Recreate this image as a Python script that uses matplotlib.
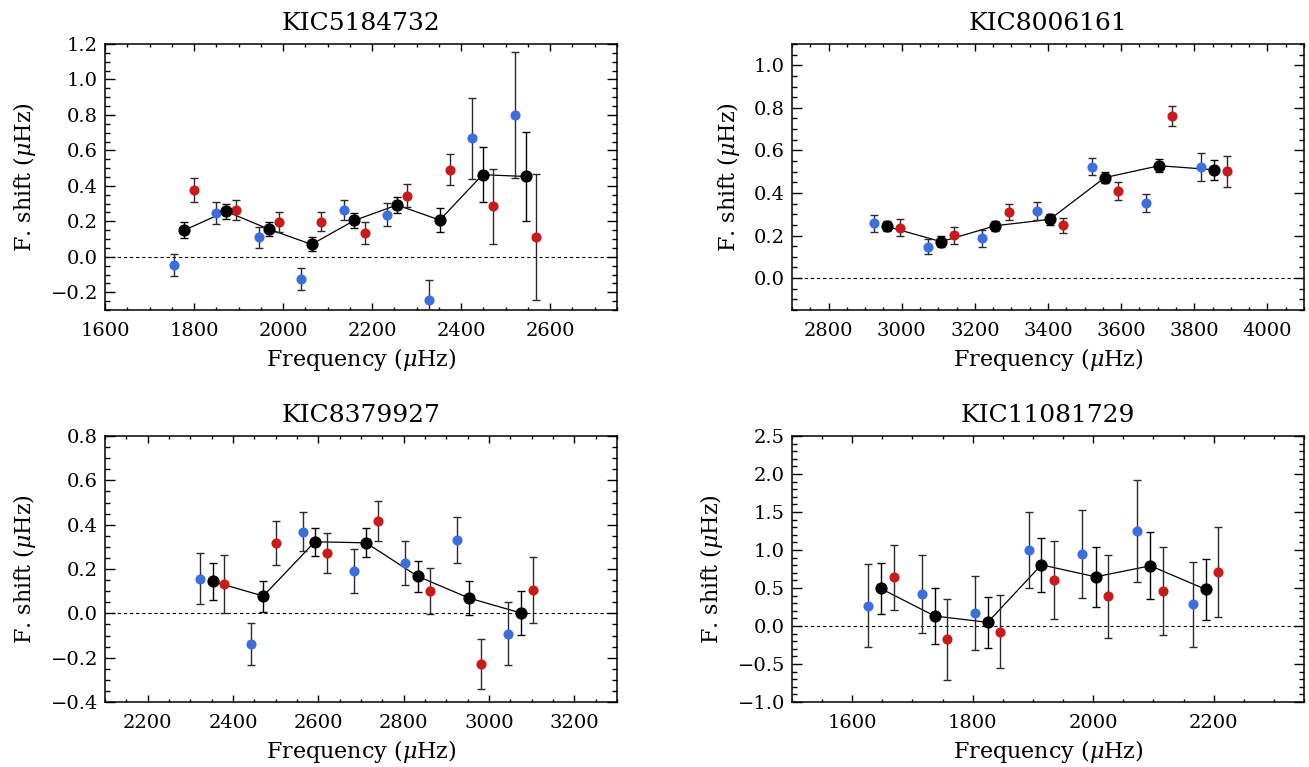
import matplotlib
matplotlib.use("Agg")
import matplotlib.pyplot as plt
from matplotlib.ticker import MultipleLocator, FuncFormatter

plt.rcParams['font.family'] = ['DejaVu Serif']
plt.rcParams['mathtext.fontset'] = 'dejavuserif'

# star names
titles = ['KIC5184732', 'KIC8006161', 'KIC8379927', 'KIC11081729']

# KIC5184732
s1_blue_f = [1756, 1849, 1946, 2041, 2137, 2233, 2328, 2424, 2521]
s1_blue_y = [-0.045, 0.246, 0.109, -0.124, 0.263, 0.237, -0.241, 0.668, 0.801]
s1_blue_e = [0.062, 0.063, 0.059, 0.062, 0.055, 0.066, 0.109, 0.228, 0.355]
s1_red_f = [1800, 1894, 1991, 2086, 2183, 2279, 2374, 2471, 2568]
s1_red_y = [0.378, 0.263, 0.196, 0.199, 0.135, 0.344, 0.491, 0.284, 0.111]
s1_red_e = [0.067, 0.057, 0.054, 0.051, 0.062, 0.064, 0.087, 0.213, 0.354]
s1_avg_f = [1778, 1872, 1968, 2064, 2160, 2256, 2352, 2448, 2545]
s1_avg_y = [0.150, 0.256, 0.156, 0.070, 0.205, 0.292, 0.207, 0.463, 0.453]
s1_avg_e = [0.045, 0.042, 0.038, 0.040, 0.041, 0.046, 0.066, 0.154, 0.250]

# KIC8006161
s2_blue_f = [2923, 3072, 3220, 3370, 3519, 3668, 3817]
s2_blue_y = [0.257, 0.147, 0.186, 0.315, 0.523, 0.353, 0.522]
s2_blue_e = [0.041, 0.036, 0.039, 0.041, 0.040, 0.041, 0.064]
s2_red_f = [2995, 3143, 3292, 3441, 3591, 3739, 3889]
s2_red_y = [0.237, 0.202, 0.309, 0.248, 0.411, 0.762, 0.501]
s2_red_e = [0.039, 0.040, 0.037, 0.036, 0.042, 0.046, 0.072]
s2_avg_f = [2959, 3108, 3256, 3405, 3555, 3704, 3854]
s2_avg_y = [0.243, 0.171, 0.246, 0.276, 0.472, 0.528, 0.509]
s2_avg_e = [0.024, 0.025, 0.023, 0.027, 0.027, 0.031, 0.048]

# KIC8379927
s3_blue_f = [2323, 2443, 2564, 2684, 2804, 2924, 3045]
s3_blue_y = [0.155, -0.138, 0.369, 0.191, 0.228, 0.330, -0.092]
s3_blue_e = [0.115, 0.095, 0.088, 0.100, 0.100, 0.104, 0.141]
s3_red_f = [2380, 2500, 2620, 2740, 2861, 2982, 3102]
s3_red_y = [0.131, 0.317, 0.272, 0.416, 0.102, -0.230, 0.104]
s3_red_e = [0.130, 0.100, 0.091, 0.089, 0.104, 0.113, 0.149]
s3_avg_f = [2352, 2471, 2592, 2712, 2833, 2953, 3074]
s3_avg_y = [0.144, 0.078, 0.323, 0.318, 0.167, 0.069, 0.002]
s3_avg_e = [0.085, 0.070, 0.064, 0.066, 0.071, 0.077, 0.100]

# KIC11081729
s4_blue_f = [1626, 1716, 1803, 1894, 1982, 2073, 2165]
s4_blue_y = [0.267, 0.420, 0.171, 0.997, 0.949, 1.251, 0.284]
s4_blue_e = [0.547, 0.514, 0.486, 0.499, 0.575, 0.676, 0.560]
s4_red_f = [1669, 1757, 1846, 1935, 2025, 2116, 2208]
s4_red_y = [0.639, -0.175, -0.074, 0.604, 0.389, 0.459, 0.709]
s4_red_e = [0.431, 0.531, 0.483, 0.510, 0.549, 0.577, 0.595]
s4_avg_f = [1647, 1737, 1825, 1914, 2004, 2095, 2187]
s4_avg_y = [0.494, 0.131, 0.048, 0.805, 0.647, 0.792, 0.481]
s4_avg_e = [0.337, 0.370, 0.339, 0.359, 0.394, 0.440, 0.405]

stars = [
    (s1_blue_f, s1_blue_y, s1_blue_e, s1_red_f, s1_red_y, s1_red_e, s1_avg_f, s1_avg_y, s1_avg_e),
    (s2_blue_f, s2_blue_y, s2_blue_e, s2_red_f, s2_red_y, s2_red_e, s2_avg_f, s2_avg_y, s2_avg_e),
    (s3_blue_f, s3_blue_y, s3_blue_e, s3_red_f, s3_red_y, s3_red_e, s3_avg_f, s3_avg_y, s3_avg_e),
    (s4_blue_f, s4_blue_y, s4_blue_e, s4_red_f, s4_red_y, s4_red_e, s4_avg_f, s4_avg_y, s4_avg_e),
]

xlims = [(1600, 2750), (2700, 4100), (2100, 3300), (1500, 2350)]
ylims = [(-0.3, 1.2), (-0.15, 1.1), (-0.4, 0.8), (-1.0, 2.5)]
ymajor = [0.2, 0.2, 0.2, 0.5]
yminor = [0.05, 0.05, 0.05, 0.1]

blue = '#3b6ee0'
red = '#cc1a1a'


def yfmt(v, pos):
    return ('%.1f' % v).replace('-', '\u2212')


fig = plt.figure(figsize=(13.09, 7.67), dpi=100)
W = 512 / 1309
H = 266 / 767
boxes = [(105 / 1309, 457 / 767), (792 / 1309, 457 / 767),
         (105 / 1309, 65 / 767), (792 / 1309, 65 / 767)]

for i in range(4):
    bf, by, be, rf, ry, re, af, ay, ae = stars[i]
    ax = fig.add_axes([boxes[i][0], boxes[i][1], W, H])
    ax.axhline(0, color='black', linestyle='--', linewidth=0.8, dashes=(3, 2.5), zorder=1)
    ax.plot(af, ay, color='black', linewidth=0.9, zorder=2)
    ax.errorbar(bf, by, yerr=be, fmt='o', color=blue, ms=7.3, mec='none',
                ecolor='#2a2a2a', elinewidth=1, capsize=3, capthick=1, zorder=3)
    ax.errorbar(rf, ry, yerr=re, fmt='o', color=red, ms=7.3, mec='none',
                ecolor='#2a2a2a', elinewidth=1, capsize=3, capthick=1, zorder=3)
    ax.errorbar(af, ay, yerr=ae, fmt='o', color='black', ms=7.8,
                ecolor='black', elinewidth=1, capsize=3, capthick=1, zorder=4)

    ax.set_xlim(xlims[i])
    ax.set_ylim(ylims[i])
    ax.xaxis.set_major_locator(MultipleLocator(200))
    ax.xaxis.set_minor_locator(MultipleLocator(50))
    ax.yaxis.set_major_locator(MultipleLocator(ymajor[i]))
    ax.yaxis.set_minor_locator(MultipleLocator(yminor[i]))
    ax.yaxis.set_major_formatter(FuncFormatter(yfmt))
    ax.tick_params(which='both', direction='in', top=True, right=True, labelsize=14, width=1)
    ax.tick_params(axis='x', which='major', length=5, pad=9)
    ax.tick_params(axis='x', which='minor', length=2.5)
    ax.tick_params(axis='y', which='major', length=7, pad=5)
    ax.tick_params(axis='y', which='minor', length=3.5)
    for sp in ax.spines.values():
        sp.set_linewidth(1.1)

    ax.set_title(titles[i], fontsize=18, pad=10)
    ax.set_xlabel(r'Frequency ($\mu$Hz)', fontsize=16, labelpad=4)
    ax.set_ylabel(r'F. shift ($\mu$Hz)', fontsize=16, labelpad=9)

fig.savefig('out.png', dpi=100)
